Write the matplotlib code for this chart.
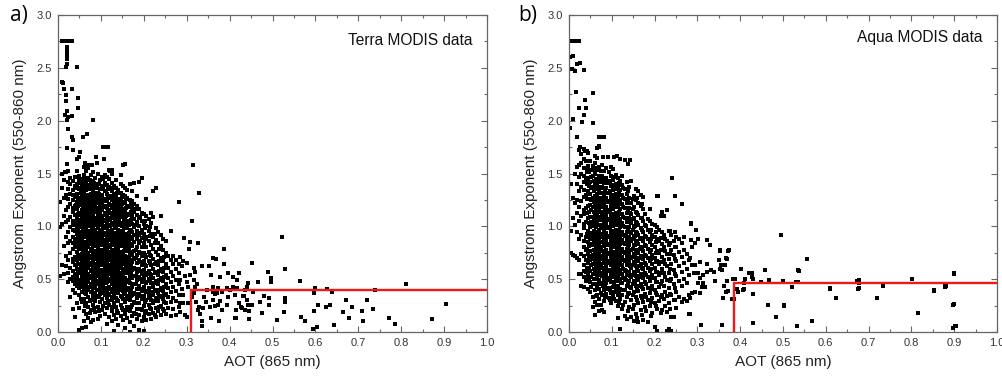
import matplotlib
matplotlib.use("Agg")
import matplotlib.pyplot as plt
from matplotlib.ticker import MultipleLocator

# ---------------- data ----------------
core_cols_x = [0.004, 0.009, 0.014, 0.019, 0.024, 0.029, 0.034, 0.039, 0.044, 0.050,
               0.055, 0.061, 0.066, 0.071, 0.077, 0.082, 0.087, 0.093, 0.098, 0.103,
               0.109, 0.114, 0.119, 0.125, 0.130, 0.135, 0.141, 0.146, 0.151, 0.157,
               0.162, 0.168, 0.173, 0.178, 0.184, 0.189, 0.195, 0.200, 0.206, 0.211,
               0.217, 0.222, 0.228, 0.233, 0.239, 0.245, 0.251, 0.257, 0.263, 0.269,
               0.275, 0.281]
fill_cols_x = [0.047, 0.058, 0.069, 0.080, 0.090, 0.101, 0.111, 0.122, 0.133, 0.143,
               0.154, 0.165]
fill2_cols_x = [0.036, 0.042, 0.0525, 0.0635, 0.0745, 0.085, 0.0955, 0.106, 0.1165, 0.127,
                0.138, 0.1485, 0.159, 0.170, 0.181, 0.192, 0.203, 0.214, 0.225, 0.236, 0.248]

# Terra: Angstrom exponent values in each AOT column of the dense cloud
terra_core_ae = [
    [0.53, 0.99, 1.23],
    [0.63, 1.02, 1.36, 1.50],
    [0.55, 0.81, 1.10, 1.27, 1.44],
    [0.62, 0.72, 0.90, 1.04, 1.15, 1.30, 1.51],
    [0.47, 0.56, 0.68, 0.84, 0.95, 1.06, 1.18, 1.26, 1.35, 1.42],
    [0.33, 0.50, 0.61, 0.75, 0.86, 0.99, 1.09, 1.21, 1.31, 1.40, 1.46],
    [0.22, 0.40, 0.48, 0.58, 0.66, 0.79, 0.90, 0.97, 1.05, 1.14, 1.25, 1.34, 1.43],
    [0.14, 0.37, 0.45, 0.55, 0.63, 0.71, 0.82, 0.88, 0.96, 1.03, 1.11, 1.19, 1.28, 1.38, 1.47],
    [0.27, 0.44, 0.52, 0.60, 0.68, 0.76, 0.84, 0.93, 1.00, 1.08, 1.16, 1.23, 1.31, 1.40, 1.52],
    [0.02, 0.23, 0.35, 0.42, 0.49, 0.57, 0.64, 0.72, 0.79, 0.86, 0.92, 0.99, 1.06, 1.13, 1.20, 1.27, 1.35, 1.44, 1.48],
    [0.04, 0.28, 0.38, 0.46, 0.53, 0.60, 0.66, 0.74, 0.81, 0.88, 0.95, 1.02, 1.09, 1.15, 1.22, 1.30, 1.38, 1.45],
    [0.10, 0.20, 0.31, 0.41, 0.47, 0.55, 0.62, 0.69, 0.76, 0.83, 0.90, 0.97, 1.03, 1.10, 1.17, 1.24, 1.32, 1.40, 1.49, 1.56],
    [0.05, 0.17, 0.27, 0.36, 0.44, 0.51, 0.58, 0.65, 0.71, 0.78, 0.85, 0.92, 0.99, 1.06, 1.12, 1.19, 1.26, 1.34, 1.43, 1.52],
    [0.13, 0.24, 0.33, 0.40, 0.48, 0.54, 0.61, 0.67, 0.74, 0.80, 0.87, 0.94, 1.00, 1.07, 1.14, 1.21, 1.29, 1.37, 1.46, 1.55],
    [0.09, 0.21, 0.30, 0.38, 0.45, 0.52, 0.58, 0.64, 0.70, 0.77, 0.83, 0.89, 0.96, 1.03, 1.09, 1.16, 1.23, 1.31, 1.40, 1.49],
    [0.11, 0.26, 0.34, 0.42, 0.49, 0.56, 0.62, 0.68, 0.74, 0.81, 0.87, 0.93, 0.99, 1.05, 1.12, 1.18, 1.26, 1.34, 1.43, 1.51],
    [0.19, 0.29, 0.37, 0.44, 0.51, 0.58, 0.64, 0.71, 0.77, 0.84, 0.90, 0.96, 1.02, 1.08, 1.15, 1.21, 1.28, 1.37, 1.46],
    [0.12, 0.24, 0.33, 0.40, 0.47, 0.54, 0.60, 0.66, 0.73, 0.79, 0.85, 0.91, 0.98, 1.04, 1.10, 1.17, 1.24, 1.32, 1.40, 1.50],
    [0.15, 0.28, 0.36, 0.43, 0.50, 0.57, 0.63, 0.70, 0.76, 0.82, 0.88, 0.95, 1.01, 1.07, 1.13, 1.20, 1.27, 1.35, 1.44],
    [0.21, 0.31, 0.39, 0.46, 0.53, 0.59, 0.65, 0.72, 0.78, 0.85, 0.91, 0.97, 1.04, 1.10, 1.16, 1.23, 1.30, 1.38, 1.47],
    [0.17, 0.27, 0.35, 0.42, 0.49, 0.56, 0.62, 0.68, 0.75, 0.81, 0.87, 0.94, 1.00, 1.06, 1.13, 1.19, 1.26, 1.33, 1.41, 1.49],
    [0.08, 0.23, 0.32, 0.40, 0.47, 0.53, 0.60, 0.66, 0.72, 0.79, 0.85, 0.91, 0.98, 1.04, 1.10, 1.17, 1.24, 1.31, 1.39, 1.47],
    [0.14, 0.26, 0.35, 0.43, 0.50, 0.57, 0.63, 0.70, 0.76, 0.82, 0.89, 0.95, 1.01, 1.08, 1.14, 1.21, 1.29, 1.37, 1.45, 1.53],
    [0.10, 0.20, 0.30, 0.38, 0.45, 0.52, 0.59, 0.65, 0.71, 0.78, 0.84, 0.90, 0.97, 1.03, 1.10, 1.17, 1.25, 1.33, 1.41, 1.50],
    [0.01, 0.16, 0.27, 0.35, 0.42, 0.49, 0.56, 0.62, 0.69, 0.75, 0.82, 0.88, 0.94, 1.01, 1.08, 1.15, 1.23, 1.31, 1.38],
    [0.12, 0.24, 0.32, 0.40, 0.47, 0.54, 0.61, 0.67, 0.74, 0.80, 0.87, 0.93, 1.00, 1.06, 1.13, 1.20, 1.28, 1.36, 1.44],
    [0.07, 0.18, 0.29, 0.37, 0.44, 0.51, 0.58, 0.64, 0.71, 0.78, 0.84, 0.91, 0.97, 1.04, 1.11, 1.18, 1.26, 1.34],
    [0.15, 0.26, 0.34, 0.42, 0.49, 0.56, 0.63, 0.69, 0.76, 0.83, 0.89, 0.96, 1.03, 1.10, 1.17, 1.25, 1.32, 1.40, 1.49],
    [0.11, 0.21, 0.31, 0.39, 0.46, 0.53, 0.60, 0.67, 0.74, 0.81, 0.88, 0.95, 1.02, 1.09, 1.16, 1.23, 1.30, 1.38, 1.58],
    [0.04, 0.17, 0.28, 0.36, 0.44, 0.51, 0.58, 0.65, 0.72, 0.79, 0.86, 0.93, 1.00, 1.07, 1.14, 1.22, 1.29, 1.36],
    [0.13, 0.24, 0.33, 0.41, 0.49, 0.56, 0.63, 0.70, 0.77, 0.84, 0.91, 0.98, 1.05, 1.12, 1.19, 1.27, 1.34],
    [0.00, 0.09, 0.20, 0.30, 0.38, 0.46, 0.53, 0.61, 0.68, 0.75, 0.82, 0.90, 0.97, 1.04, 1.11, 1.18, 1.25, 1.40],
    [0.15, 0.26, 0.35, 0.43, 0.51, 0.59, 0.66, 0.73, 0.81, 0.88, 0.95, 1.02, 1.10, 1.17, 1.24, 1.33],
    [0.06, 0.18, 0.28, 0.37, 0.45, 0.53, 0.61, 0.69, 0.77, 0.85, 0.92, 0.99, 1.07, 1.14, 1.21, 1.41],
    [0.12, 0.22, 0.32, 0.41, 0.49, 0.57, 0.65, 0.73, 0.80, 0.88, 0.96, 1.04, 1.11, 1.19, 1.29],
    [0.02, 0.16, 0.27, 0.36, 0.44, 0.52, 0.60, 0.68, 0.76, 0.84, 0.92, 1.00, 1.08, 1.16, 1.42],
    [0.10, 0.21, 0.31, 0.39, 0.47, 0.55, 0.63, 0.72, 0.80, 0.89, 0.97, 1.05, 1.13, 1.46],
    [0.01, 0.14, 0.25, 0.34, 0.43, 0.51, 0.59, 0.67, 0.75, 0.84, 0.93, 1.02, 1.12],
    [0.11, 0.20, 0.30, 0.38, 0.46, 0.54, 0.62, 0.71, 0.80, 0.90, 1.00, 1.10, 1.26],
    [0.17, 0.26, 0.34, 0.42, 0.50, 0.58, 0.67, 0.76, 0.86, 0.96, 1.07],
    [0.12, 0.22, 0.30, 0.38, 0.46, 0.54, 0.63, 0.72, 0.82, 0.93, 1.03, 1.13],
    [0.18, 0.27, 0.35, 0.43, 0.51, 0.60, 0.69, 0.79, 0.90, 1.09, 1.33],
    [0.14, 0.23, 0.32, 0.40, 0.48, 0.57, 0.66, 0.76, 0.87, 0.98, 1.36],
    [0.20, 0.29, 0.37, 0.45, 0.54, 0.63, 0.73, 0.84, 0.95],
    [0.16, 0.25, 0.34, 0.42, 0.51, 0.60, 0.70, 0.81, 0.92, 1.10],
    [0.22, 0.31, 0.39, 0.48, 0.57, 0.67, 0.78, 0.88],
    [0.17, 0.27, 0.36, 0.45, 0.54, 0.64, 0.75, 0.86],
    [0.23, 0.33, 0.42, 0.51, 0.61, 0.72],
    [0.15, 0.28, 0.38, 0.47, 0.57, 0.68, 0.96],
    [0.22, 0.32, 0.43, 0.53, 0.64, 0.72],
    [0.16, 0.29, 0.39, 0.49, 0.60, 0.68],
    [0.24, 0.35, 0.45, 0.56, 0.64, 1.23],
]
terra_fill_ae = [
    [0.47, 0.56, 0.64, 0.73, 0.80, 0.89, 0.96, 1.04, 1.12, 1.19, 1.26, 1.36],
    [0.43, 0.50, 0.57, 0.63, 0.70, 0.78, 0.84, 0.92, 0.98, 1.05, 1.12, 1.19, 1.26, 1.34, 1.41],
    [0.41, 0.47, 0.55, 0.62, 0.68, 0.75, 0.82, 0.88, 0.96, 1.02, 1.09, 1.16, 1.23, 1.30, 1.39],
    [0.38, 0.45, 0.53, 0.59, 0.65, 0.72, 0.79, 0.86, 0.92, 0.99, 1.06, 1.13, 1.21, 1.29, 1.36],
    [0.40, 0.48, 0.56, 0.62, 0.69, 0.75, 0.81, 0.88, 0.94, 1.01, 1.07, 1.14, 1.22, 1.29, 1.36],
    [0.42, 0.50, 0.57, 0.63, 0.70, 0.76, 0.82, 0.89, 0.95, 1.02, 1.08, 1.15, 1.21, 1.28, 1.35],
    [0.38, 0.46, 0.53, 0.59, 0.66, 0.72, 0.79, 0.85, 0.92, 0.98, 1.05, 1.11, 1.18, 1.25, 1.33],
    [0.41, 0.48, 0.55, 0.61, 0.68, 0.74, 0.80, 0.87, 0.93, 1.00, 1.06, 1.13, 1.20, 1.27],
    [0.38, 0.45, 0.52, 0.59, 0.65, 0.72, 0.78, 0.85, 0.91, 0.98, 1.04, 1.11, 1.18, 1.24],
    [0.40, 0.47, 0.54, 0.61, 0.68, 0.74, 0.81, 0.87, 0.94, 1.01, 1.07, 1.14, 1.21],
    [0.36, 0.43, 0.50, 0.57, 0.64, 0.70, 0.77, 0.84, 0.91, 0.98, 1.05, 1.12],
    [0.34, 0.42, 0.49, 0.57, 0.64, 0.71, 0.79, 0.86, 0.94, 1.01],
]
terra_fill2_ae = [
    [0.52, 0.69, 0.84, 1.01, 1.17, 1.30],
    [0.49, 0.63, 0.80, 0.97, 1.05, 1.20, 1.36],
    [0.31, 0.45, 0.61, 0.69, 0.83, 0.90, 1.03, 1.11, 1.24, 1.32, 1.41],
    [0.25, 0.37, 0.52, 0.59, 0.73, 0.80, 0.94, 1.00, 1.15, 1.21, 1.29, 1.37, 1.45],
    [0.18, 0.29, 0.43, 0.51, 0.63, 0.71, 0.84, 0.91, 1.04, 1.11, 1.19, 1.27, 1.35, 1.44],
    [0.23, 0.33, 0.46, 0.55, 0.60, 0.75, 0.83, 0.97, 1.03, 1.17, 1.24, 1.32, 1.41],
    [0.20, 0.34, 0.45, 0.53, 0.66, 0.73, 0.86, 0.93, 1.05, 1.12, 1.25, 1.31, 1.40],
    [0.25, 0.37, 0.44, 0.58, 0.67, 0.78, 0.86, 0.99, 1.06, 1.18, 1.24, 1.37, 1.45],
    [0.29, 0.36, 0.50, 0.57, 0.69, 0.76, 0.88, 0.96, 1.07, 1.15, 1.27, 1.35],
    [0.24, 0.33, 0.47, 0.55, 0.62, 0.74, 0.82, 0.95, 1.01, 1.12, 1.20, 1.29, 1.36],
    [0.20, 0.30, 0.43, 0.49, 0.63, 0.70, 0.83, 0.90, 1.02, 1.09, 1.16, 1.25, 1.32],
    [0.23, 0.33, 0.45, 0.52, 0.66, 0.72, 0.86, 0.93, 1.00, 1.14, 1.21, 1.28],
    [0.21, 0.31, 0.40, 0.47, 0.61, 0.68, 0.81, 0.89, 1.03, 1.10, 1.17, 1.26],
    [0.24, 0.34, 0.41, 0.55, 0.62, 0.76, 0.83, 0.97, 1.06, 1.14, 1.22],
    [0.17, 0.27, 0.36, 0.45, 0.53, 0.60, 0.70, 0.78, 0.92, 1.01, 1.16],
    [0.22, 0.34, 0.41, 0.50, 0.58, 0.66, 0.75, 0.86, 0.94, 1.09],
    [0.18, 0.28, 0.39, 0.47, 0.56, 0.63, 0.73, 0.88, 0.98, 1.05],
    [0.23, 0.32, 0.38, 0.48, 0.55, 0.65, 0.73, 0.91, 0.99],
    [0.16, 0.29, 0.39, 0.46, 0.56, 0.64, 0.84, 0.93],
    [0.24, 0.33, 0.40, 0.49, 0.58, 0.67, 0.79],
    [0.20, 0.28, 0.35, 0.43, 0.52, 0.61, 0.71],
]
terra_upper = [
    (0.009, 2.75), (0.015, 2.75), (0.021, 2.75), (0.027, 2.75), (0.032, 2.75),
    (0.022, 2.70), (0.022, 2.66), (0.022, 2.62), (0.022, 2.58), (0.022, 2.54), (0.019, 2.51),
    (0.044, 2.51), (0.009, 2.37), (0.012, 2.36), (0.015, 2.30), (0.032, 2.30), (0.019, 2.24),
    (0.018, 2.19), (0.047, 2.21), (0.046, 2.12), (0.020, 2.09), (0.016, 2.05), (0.024, 2.03),
    (0.020, 2.01), (0.033, 2.04), (0.082, 2.01), (0.023, 1.92), (0.033, 1.85), (0.036, 1.82),
    (0.059, 1.85), (0.067, 1.87), (0.105, 1.75), (0.110, 1.75), (0.117, 1.75), (0.020, 1.74),
    (0.036, 1.72), (0.051, 1.70), (0.049, 1.66), (0.044, 1.64), (0.088, 1.66), (0.108, 1.64),
    (0.156, 1.59), (0.020, 1.59), (0.063, 1.60), (0.071, 1.58), (0.079, 1.58), (0.090, 1.60),
    (0.125, 1.53), (0.121, 1.52), (0.016, 1.51), (0.024, 1.52),
]
terra_tail = [
    (0.314, 1.58), (0.329, 1.32), (0.313, 1.05), (0.294, 0.89), (0.308, 0.855), (0.306, 0.79),
    (0.326, 0.845), (0.386, 0.79), (0.522, 0.90), (0.361, 0.70), (0.369, 0.69), (0.386, 0.64),
    (0.453, 0.655), (0.530, 0.595), (0.335, 0.625), (0.353, 0.625), (0.489, 0.565), (0.496, 0.51),
    (0.496, 0.475), (0.563, 0.485), (0.397, 0.555), (0.409, 0.52), (0.422, 0.555), (0.417, 0.49),
    (0.378, 0.52), (0.357, 0.54), (0.466, 0.475), (0.444, 0.46), (0.440, 0.43), (0.811, 0.45),
    (0.598, 0.42), (0.627, 0.405), (0.639, 0.38), (0.739, 0.40), (0.596, 0.365), (0.530, 0.325),
    (0.530, 0.28), (0.672, 0.30), (0.720, 0.30), (0.605, 0.255), (0.625, 0.235), (0.635, 0.255),
    (0.685, 0.235), (0.664, 0.19), (0.709, 0.20), (0.734, 0.215), (0.905, 0.265), (0.597, 0.20),
    (0.526, 0.185), (0.511, 0.115), (0.567, 0.145), (0.575, 0.10), (0.678, 0.13), (0.711, 0.105),
    (0.772, 0.13), (0.786, 0.08), (0.872, 0.12), (0.644, 0.065), (0.594, 0.025), (0.604, 0.045),
    (0.471, 0.285), (0.475, 0.18), (0.493, 0.255), (0.481, 0.345), (0.491, 0.325), (0.440, 0.30),
    (0.444, 0.255), (0.452, 0.26), (0.446, 0.20), (0.437, 0.21), (0.415, 0.21), (0.446, 0.125),
    (0.415, 0.135), (0.427, 0.24), (0.434, 0.34), (0.436, 0.40), (0.454, 0.38), (0.409, 0.43),
    (0.417, 0.42), (0.394, 0.42), (0.401, 0.40), (0.382, 0.38), (0.370, 0.365), (0.362, 0.38),
    (0.362, 0.43), (0.374, 0.42), (0.413, 0.35), (0.432, 0.345), (0.397, 0.33), (0.378, 0.295),
    (0.362, 0.30), (0.366, 0.36), (0.347, 0.40), (0.341, 0.335), (0.345, 0.285), (0.355, 0.24),
    (0.365, 0.245), (0.374, 0.255), (0.382, 0.21), (0.394, 0.255), (0.421, 0.27), (0.429, 0.225),
    (0.356, 0.135), (0.376, 0.105), (0.413, 0.13), (0.331, 0.175), (0.335, 0.10), (0.335, 0.055),
    (0.327, 0.21), (0.329, 0.24), (0.339, 0.23), (0.322, 0.28), (0.312, 0.335), (0.316, 0.365),
    (0.285, 0.71), (0.292, 0.67), (0.300, 0.655), (0.289, 0.62), (0.316, 0.61), (0.320, 0.57),
    (0.308, 0.54), (0.296, 0.53), (0.285, 0.49), (0.300, 0.475), (0.316, 0.49), (0.324, 0.455),
    (0.320, 0.43), (0.304, 0.43), (0.289, 0.41), (0.292, 0.35), (0.285, 0.27), (0.291, 0.27),
    (0.296, 0.16), (0.300, 0.145), (0.285, 0.19), (0.302, 0.27),
]

# Aqua
aqua_core_ae = [
    [0.75, 0.96, 1.40],
    [0.73, 1.08, 1.27],
    [0.72, 1.01, 1.22, 1.50],
    [0.70, 0.95, 1.13, 1.25, 1.40, 1.56],
    [0.55, 0.68, 0.88, 1.05, 1.18, 1.33, 1.47, 1.58, 1.72],
    [0.44, 0.55, 0.74, 0.92, 1.10, 1.24, 1.37, 1.50, 1.60, 1.68],
    [0.43, 0.52, 0.63, 0.80, 0.98, 1.12, 1.28, 1.42, 1.55, 1.64],
    [0.48, 0.57, 0.68, 0.78, 0.90, 1.04, 1.17, 1.30, 1.44, 1.55, 1.62],
    [0.41, 0.54, 0.65, 0.74, 0.85, 0.96, 1.08, 1.19, 1.33, 1.46, 1.57, 1.69],
    [0.38, 0.47, 0.58, 0.68, 0.77, 0.88, 0.99, 1.09, 1.20, 1.31, 1.42, 1.53, 1.62],
    [0.24, 0.33, 0.45, 0.55, 0.64, 0.73, 0.82, 0.91, 1.00, 1.09, 1.18, 1.27, 1.37, 1.48, 1.57],
    [0.16, 0.28, 0.40, 0.50, 0.59, 0.67, 0.76, 0.85, 0.93, 1.02, 1.11, 1.20, 1.29, 1.39, 1.50, 1.60],
    [0.26, 0.35, 0.44, 0.53, 0.62, 0.70, 0.78, 0.87, 0.95, 1.04, 1.13, 1.22, 1.31, 1.41, 1.53, 1.65],
    [0.20, 0.31, 0.41, 0.49, 0.57, 0.65, 0.73, 0.81, 0.89, 0.97, 1.06, 1.15, 1.24, 1.34, 1.45, 1.56, 1.76],
    [0.21, 0.35, 0.45, 0.53, 0.61, 0.69, 0.77, 0.85, 0.93, 1.01, 1.10, 1.18, 1.27, 1.37, 1.48, 1.58],
    [0.19, 0.29, 0.40, 0.49, 0.57, 0.65, 0.73, 0.81, 0.89, 0.97, 1.05, 1.14, 1.22, 1.31, 1.41, 1.52],
    [0.36, 0.46, 0.54, 0.62, 0.70, 0.78, 0.86, 0.94, 1.02, 1.10, 1.18, 1.27, 1.36, 1.46, 1.55],
    [0.32, 0.42, 0.51, 0.59, 0.67, 0.75, 0.83, 0.91, 0.99, 1.07, 1.15, 1.23, 1.32, 1.42, 1.51],
    [0.27, 0.37, 0.47, 0.55, 0.63, 0.71, 0.79, 0.87, 0.95, 1.03, 1.11, 1.19, 1.28, 1.38, 1.48, 1.56],
    [0.34, 0.43, 0.52, 0.60, 0.68, 0.76, 0.84, 0.92, 1.00, 1.08, 1.16, 1.25, 1.34, 1.44, 1.54],
    [0.29, 0.39, 0.48, 0.57, 0.65, 0.73, 0.81, 0.89, 0.97, 1.05, 1.13, 1.22, 1.31, 1.40, 1.49],
    [0.13, 0.25, 0.35, 0.44, 0.53, 0.62, 0.70, 0.78, 0.86, 0.94, 1.02, 1.10, 1.19, 1.28, 1.37, 1.46],
    [0.03, 0.31, 0.41, 0.50, 0.59, 0.67, 0.75, 0.83, 0.91, 0.99, 1.07, 1.16, 1.25, 1.34, 1.43],
    [0.22, 0.35, 0.46, 0.55, 0.63, 0.71, 0.79, 0.87, 0.95, 1.03, 1.12, 1.21, 1.30, 1.39, 1.48],
    [0.15, 0.28, 0.40, 0.50, 0.59, 0.67, 0.75, 0.83, 0.91, 0.99, 1.08, 1.17, 1.26, 1.35],
    [0.12, 0.33, 0.44, 0.54, 0.63, 0.71, 0.79, 0.87, 0.95, 1.04, 1.13, 1.22, 1.31, 1.42],
    [0.24, 0.37, 0.48, 0.57, 0.66, 0.74, 0.82, 0.90, 0.99, 1.08, 1.17, 1.27, 1.37],
    [0.14, 0.30, 0.42, 0.52, 0.61, 0.70, 0.78, 0.86, 0.94, 1.03, 1.12, 1.22, 1.43],
    [0.10, 0.26, 0.38, 0.48, 0.57, 0.66, 0.74, 0.82, 0.90, 0.99, 1.08, 1.18, 1.29],
    [0.17, 0.33, 0.44, 0.53, 0.62, 0.70, 0.78, 0.86, 0.95, 1.04, 1.14, 1.25, 1.35],
    [0.09, 0.27, 0.39, 0.49, 0.58, 0.67, 0.75, 0.83, 0.92, 1.01, 1.11, 1.22, 1.33],
    [0.21, 0.34, 0.45, 0.55, 0.64, 0.72, 0.80, 0.89, 0.98, 1.08, 1.19, 1.30],
    [0.11, 0.28, 0.41, 0.51, 0.60, 0.69, 0.77, 0.86, 0.95, 1.05, 1.16, 1.28],
    [0.24, 0.36, 0.47, 0.56, 0.65, 0.73, 0.82, 0.91, 1.01, 1.12],
    [0.09, 0.30, 0.42, 0.52, 0.61, 0.70, 0.79, 0.88, 0.97, 1.07],
    [0.25, 0.37, 0.48, 0.58, 0.67, 0.76, 0.85, 0.95, 1.05, 1.16],
    [0.18, 0.32, 0.44, 0.54, 0.64, 0.73, 0.82, 0.92, 1.02],
    [0.05, 0.27, 0.40, 0.51, 0.61, 0.70, 0.80, 0.90, 1.01],
    [0.01, 0.22, 0.35, 0.47, 0.57, 0.67, 0.77, 0.88, 0.99, 1.29],
    [0.29, 0.43, 0.54, 0.64, 0.75, 0.86, 0.97],
    [0.21, 0.35, 0.48, 0.60, 0.71, 0.83, 0.95, 1.14],
    [0.31, 0.44, 0.56, 0.68, 0.80, 0.92, 1.10],
    [0.01, 0.19, 0.34, 0.49, 0.62, 0.74, 0.86, 1.15],
    [0.03, 0.27, 0.42, 0.56, 0.69, 0.82, 0.96],
    [0.01, 0.14, 0.35, 0.50, 0.64, 0.78, 0.92],
    [0.14, 0.30, 0.45, 0.59, 0.73, 0.86],
    [0.23, 0.38, 0.53, 0.67, 0.80, 0.90],
    [0.33, 0.48, 0.62, 0.76, 0.88],
    [0.28, 0.44, 0.57, 0.71, 0.84],
    [0.31, 0.50, 0.65, 0.78, 0.90],
    [0.29, 0.46, 0.60, 0.74],
    [0.17, 0.35, 0.54, 0.68],
]
aqua_fill_ae = [
    [0.49, 0.61, 0.71, 0.81, 0.92, 1.03, 1.14, 1.26, 1.38, 1.51],
    [0.50, 0.60, 0.69, 0.78, 0.87, 0.96, 1.05, 1.14, 1.23, 1.33, 1.43, 1.53],
    [0.45, 0.54, 0.61, 0.69, 0.77, 0.85, 0.93, 1.01, 1.09, 1.18, 1.27, 1.37, 1.48],
    [0.44, 0.53, 0.61, 0.69, 0.77, 0.85, 0.93, 1.01, 1.09, 1.18, 1.26, 1.36, 1.46],
    [0.41, 0.50, 0.58, 0.66, 0.74, 0.82, 0.90, 0.98, 1.06, 1.14, 1.23, 1.32, 1.41],
    [0.47, 0.56, 0.64, 0.72, 0.80, 0.88, 0.96, 1.04, 1.12, 1.21, 1.30, 1.39],
    [0.43, 0.52, 0.61, 0.69, 0.77, 0.85, 0.93, 1.01, 1.09, 1.18, 1.26, 1.35],
    [0.46, 0.55, 0.63, 0.71, 0.79, 0.87, 0.95, 1.03, 1.12, 1.21, 1.30],
    [0.49, 0.58, 0.67, 0.75, 0.83, 0.91, 0.99, 1.08, 1.17, 1.26],
    [0.43, 0.53, 0.62, 0.70, 0.78, 0.86, 0.95, 1.04, 1.13],
    [0.47, 0.56, 0.65, 0.74, 0.82, 0.91, 1.00],
    [0.44, 0.53, 0.62, 0.70, 0.79, 0.88],
]
aqua_fill2_ae = [
    [0.58, 0.72, 0.86, 1.02, 1.15, 1.34, 1.48],
    [0.50, 0.61, 0.79, 0.93, 1.13, 1.26, 1.40, 1.51],
    [0.43, 0.52, 0.63, 0.72, 0.83, 0.94, 1.04, 1.15, 1.25, 1.36, 1.47],
    [0.34, 0.45, 0.55, 0.63, 0.72, 0.81, 0.90, 0.99, 1.08, 1.16, 1.25, 1.35, 1.45, 1.55],
    [0.26, 0.37, 0.46, 0.56, 0.64, 0.72, 0.80, 0.90, 0.98, 1.06, 1.14, 1.22, 1.32, 1.42, 1.52],
    [0.33, 0.44, 0.51, 0.60, 0.68, 0.76, 0.84, 0.92, 1.00, 1.08, 1.17, 1.25, 1.34, 1.44],
    [0.30, 0.40, 0.49, 0.58, 0.65, 0.74, 0.82, 0.90, 0.98, 1.06, 1.15, 1.24, 1.33, 1.43],
    [0.31, 0.38, 0.46, 0.55, 0.63, 0.71, 0.80, 0.88, 0.96, 1.04, 1.12, 1.20, 1.29, 1.38, 1.47],
    [0.27, 0.38, 0.48, 0.56, 0.65, 0.73, 0.81, 0.89, 0.97, 1.06, 1.14, 1.23, 1.32, 1.41],
    [0.26, 0.40, 0.51, 0.60, 0.68, 0.76, 0.84, 0.92, 1.00, 1.09, 1.18, 1.27, 1.36],
    [0.20, 0.36, 0.46, 0.55, 0.64, 0.72, 0.80, 0.88, 0.96, 1.05, 1.15, 1.24, 1.33],
    [0.22, 0.35, 0.45, 0.54, 0.63, 0.71, 0.79, 0.88, 0.97, 1.07, 1.16, 1.26],
    [0.13, 0.30, 0.41, 0.50, 0.59, 0.68, 0.76, 0.85, 0.94, 1.03, 1.13, 1.27],
    [0.16, 0.32, 0.43, 0.52, 0.61, 0.70, 0.79, 0.88, 0.97, 1.08, 1.21],
    [0.20, 0.33, 0.45, 0.54, 0.63, 0.72, 0.81, 0.90, 1.00],
    [0.15, 0.28, 0.41, 0.51, 0.60, 0.69, 0.78, 0.88, 0.97],
    [0.25, 0.37, 0.47, 0.57, 0.66, 0.75, 0.85, 0.95],
    [0.18, 0.33, 0.45, 0.56, 0.66, 0.78, 0.89, 1.10],
    [0.25, 0.38, 0.52, 0.64, 0.77, 0.88],
    [0.22, 0.36, 0.48, 0.60, 0.74, 0.84, 0.96],
    [0.30, 0.42, 0.55, 0.69, 0.80, 0.95],
]
aqua_upper = [
    (0.005, 2.75), (0.011, 2.75), (0.017, 2.75), (0.023, 2.75),
    (0.002, 2.60), (0.010, 2.61), (0.008, 2.49), (0.014, 2.47), (0.019, 2.54), (0.026, 2.55),
    (0.034, 2.48), (0.016, 2.27), (0.037, 2.20), (0.040, 2.12), (0.024, 2.12), (0.057, 2.26),
    (0.010, 2.02), (0.034, 2.05), (0.030, 1.99), (0.002, 1.93), (0.055, 1.98), (0.019, 1.85),
    (0.071, 1.85), (0.076, 1.85), (0.082, 1.85), (0.069, 1.75), (0.065, 1.74), (0.026, 1.75),
    (0.034, 1.73), (0.037, 1.71), (0.043, 1.71), (0.061, 1.67), (0.080, 1.66), (0.092, 1.66),
    (0.104, 1.66), (0.111, 1.67), (0.119, 1.64), (0.131, 1.63), (0.143, 1.63), (0.139, 1.59),
]
aqua_tail = [
    (0.240, 1.46), (0.207, 1.29), (0.248, 1.29), (0.263, 1.21), (0.217, 1.14), (0.228, 1.15),
    (0.284, 1.03), (0.302, 0.88), (0.330, 0.82), (0.495, 0.92), (0.556, 0.69), (0.353, 0.77),
    (0.372, 0.77), (0.369, 0.69), (0.351, 0.68), (0.355, 0.63), (0.401, 0.60), (0.457, 0.59),
    (0.421, 0.56), (0.428, 0.53), (0.387, 0.505), (0.412, 0.505), (0.431, 0.505), (0.537, 0.58),
    (0.468, 0.495), (0.501, 0.48), (0.536, 0.475), (0.677, 0.495), (0.677, 0.46), (0.678, 0.42),
    (0.802, 0.50), (0.900, 0.55), (0.880, 0.44), (0.878, 0.425), (0.733, 0.435), (0.609, 0.42),
    (0.521, 0.43), (0.407, 0.40), (0.394, 0.375), (0.382, 0.315), (0.624, 0.32), (0.719, 0.32),
    (0.852, 0.39), (0.430, 0.36), (0.464, 0.26), (0.502, 0.25), (0.898, 0.26), (0.816, 0.18),
    (0.484, 0.14), (0.430, 0.085), (0.567, 0.105), (0.532, 0.055), (0.902, 0.055), (0.898, 0.04),
    (0.285, 1.02), (0.296, 0.965), (0.285, 0.87), (0.295, 0.845), (0.287, 0.80), (0.323, 0.875),
    (0.330, 0.82), (0.353, 0.775), (0.374, 0.775), (0.366, 0.70), (0.283, 0.705), (0.287, 0.635),
    (0.295, 0.635), (0.306, 0.665), (0.355, 0.635), (0.365, 0.635), (0.353, 0.60), (0.357, 0.585),
    (0.323, 0.645), (0.331, 0.585), (0.338, 0.57), (0.323, 0.565), (0.291, 0.56), (0.302, 0.555),
    (0.313, 0.54), (0.306, 0.515), (0.314, 0.46), (0.318, 0.43), (0.302, 0.46), (0.310, 0.43),
    (0.341, 0.485), (0.361, 0.44), (0.369, 0.485), (0.372, 0.39), (0.367, 0.38), (0.359, 0.32),
    (0.287, 0.365), (0.306, 0.365), (0.283, 0.32), (0.295, 0.38), (0.283, 0.175), (0.308, 0.065),
    (0.358, 0.065), (0.384, 0.50), (0.392, 0.405), (0.408, 0.405), (0.411, 0.50), (0.427, 0.555),
    (0.427, 0.525), (0.448, 0.475), (0.503, 0.255), (0.531, 0.475), (0.536, 0.585), (0.609, 0.41),
    (0.624, 0.325), (0.674, 0.48), (0.675, 0.41), (0.719, 0.325), (0.853, 0.395), (0.879, 0.435),
    (0.899, 0.555), (0.899, 0.265), (0.904, 0.057), (0.533, 0.057), (0.568, 0.104), (0.410, 0.46),
    (0.385, 0.31),
]

# threshold boxes (red lines)
terra_aot_thr, terra_ae_thr = 0.31, 0.40
aqua_aot_thr, aqua_ae_thr = 0.385, 0.465

panel_letters = ["a)", "b)"]
panel_titles = ["Terra MODIS data", "Aqua MODIS data"]
x_label = "AOT (865 nm)"
y_label = "Angstrom Exponent (550-860 nm)"


def collect(column_sets, extra_points):
    xs, ys = [], []
    for cols_x, cols_y in column_sets:
        for cx, cy in zip(cols_x, cols_y):
            for v in cy:
                xs.append(cx)
                ys.append(v)
    for px, py in extra_points:
        xs.append(px)
        ys.append(py)
    return xs, ys


terra_x, terra_y = collect([(core_cols_x, terra_core_ae), (fill_cols_x, terra_fill_ae),
                            (fill2_cols_x, terra_fill2_ae)], terra_upper + terra_tail)
aqua_x, aqua_y = collect([(core_cols_x, aqua_core_ae), (fill_cols_x, aqua_fill_ae),
                          (fill2_cols_x, aqua_fill2_ae)], aqua_upper + aqua_tail)

# ---------------- figure ----------------
plt.rcParams['font.family'] = ['Liberation Sans', 'DejaVu Sans']
fig = plt.figure(figsize=(10.03, 3.76), dpi=100)
ax_a = fig.add_axes([58 / 1003, 44 / 376, 429 / 1003, 317 / 376])
ax_b = fig.add_axes([569 / 1003, 44 / 376, 428 / 1003, 317 / 376])

datasets = [(terra_x, terra_y, terra_aot_thr, terra_ae_thr),
            (aqua_x, aqua_y, aqua_aot_thr, aqua_ae_thr)]
title_pos = [(0.967, 0.921), (0.967, 0.93)]
spine_col = "#666666"
for i, (ax, (xs, ys, tx, ty)) in enumerate(zip([ax_a, ax_b], datasets)):
    ax.plot(xs, ys, 's', color='black', ms=2.7, mew=0, zorder=2)
    ax.plot([tx, tx, 1.0], [0.0, ty, ty], color='#f01818', lw=1.7, zorder=3,
            solid_joinstyle='miter', solid_capstyle='butt', clip_on=False)
    ax.set_xlim(0, 1.0)
    ax.set_ylim(0, 3.0)
    ax.xaxis.set_major_locator(MultipleLocator(0.1))
    ax.xaxis.set_minor_locator(MultipleLocator(0.05))
    ax.yaxis.set_major_locator(MultipleLocator(0.5))
    ax.yaxis.set_minor_locator(MultipleLocator(0.25))
    ax.xaxis.set_major_formatter(plt.FuncFormatter(lambda v, p: f"{v:.1f}"))
    ax.yaxis.set_major_formatter(plt.FuncFormatter(lambda v, p: f"{v:.1f}"))
    ax.tick_params(which='both', direction='in', top=True, right=True,
                   color=spine_col, width=0.8, labelsize=8, labelcolor='#333333')
    ax.tick_params(which='major', length=4, pad=4.5)
    ax.tick_params(which='minor', length=2)
    for s in ax.spines.values():
        s.set_color(spine_col)
        s.set_linewidth(0.9)
    ax.set_xlabel(x_label, fontsize=11, color='#222222', labelpad=5)
    ax.set_ylabel(y_label, fontsize=11, color='#222222', labelpad=7)
    ax.text(title_pos[i][0], title_pos[i][1], panel_titles[i], transform=ax.transAxes,
            ha='right', va='center', fontsize=11.2, color='#111111')

fig.text(10 / 1003, 1 - 16 / 376, panel_letters[0], fontsize=15, ha='left', va='center',
         family=['Open Sans', 'DejaVu Sans'])
fig.text(518 / 1003, 1 - 16 / 376, panel_letters[1], fontsize=15, ha='left', va='center',
         family=['Open Sans', 'DejaVu Sans'])

fig.savefig("out.png", dpi=100)
